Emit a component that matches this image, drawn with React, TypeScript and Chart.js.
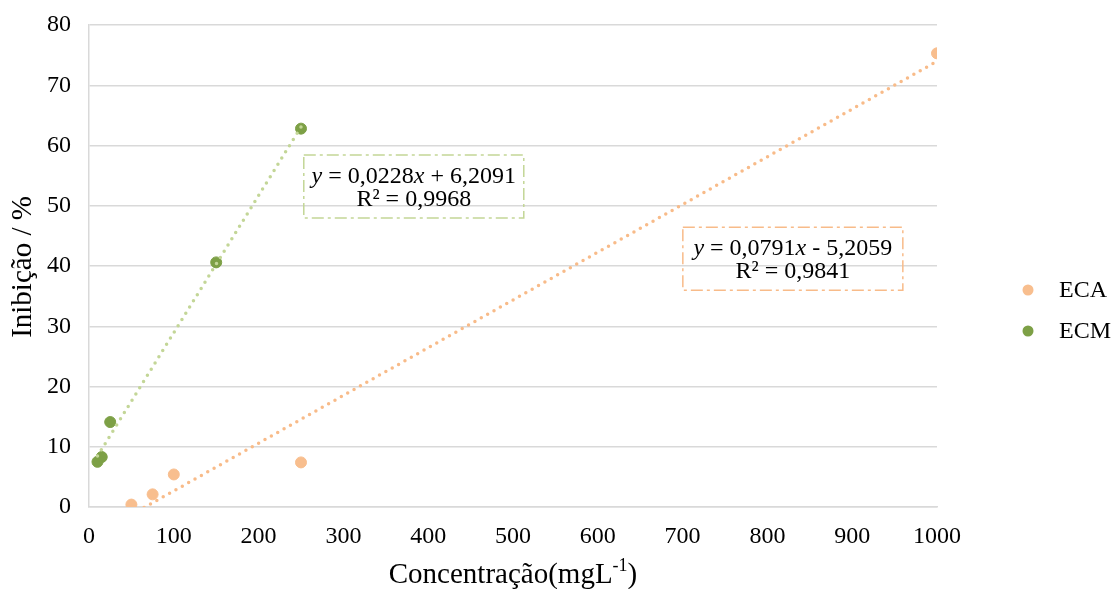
import React, { useEffect, useRef } from "react";
import { Chart, registerables } from "chart.js";

Chart.register(...registerables);

const ecaX = [50, 75, 100, 250, 1000];
const ecaY = [0.4, 2.1, 5.4, 7.4, 75.3];
const ecmX = [10, 15, 25, 150, 250];
const ecmY = [7.5, 8.3, 14.1, 40.6, 62.8];
const seriesNames = ["ECA", "ECM"];
const ecaEquation = ["0,0791", " - 5,2059", "R² = 0,9841"];
const ecmEquation = ["0,0228", " + 6,2091", "R² = 0,9968"];
const yTitle = "Inibição / %";
const xTitle = "Concentração(mgL";
const xTitleSup = "-1";

const ECA_POINT = "#F8BE8E";
const ECM_POINT = "#7DA046";
const ECA_TREND = "#F8BB89";
const ECM_TREND = "#C3D697";
const FONT = "'Liberation Serif', 'Times New Roman', serif";

function fit(xs: number[], ys: number[]) {
  const n = xs.length;
  const mx = xs.reduce((a, b) => a + b, 0) / n;
  const my = ys.reduce((a, b) => a + b, 0) / n;
  let sxx = 0, sxy = 0;
  for (let i = 0; i < n; i++) {
    sxx += (xs[i] - mx) ** 2;
    sxy += (xs[i] - mx) * (ys[i] - my);
  }
  const m = sxy / sxx;
  return { m, b: my - m * mx };
}

function trend(xs: number[], ys: number[]) {
  const { m, b } = fit(xs, ys);
  const x0 = Math.min(...xs);
  const x1 = Math.max(...xs);
  return [{ x: x0, y: m * x0 + b }, { x: x1, y: m * x1 + b }];
}

function drawEquationBox(ctx: CanvasRenderingContext2D, cx: number, cy: number, color: string, eq: string[]) {
  const w = 220, h = 63;
  ctx.save();
  ctx.strokeStyle = color;
  ctx.lineWidth = 1.5;
  ctx.setLineDash([12, 4, 3, 4]);
  ctx.strokeRect(cx - w / 2, cy - h / 2, w, h);
  ctx.setLineDash([]);
  ctx.fillStyle = "#000";
  ctx.textBaseline = "middle";
  ctx.textAlign = "left";
  const reg = `24px ${FONT}`;
  const ital = `italic 24px ${FONT}`;
  const segs: [string, string][] = [
    ["y", ital],
    [" = " + eq[0], reg],
    ["x", ital],
    [eq[1], reg],
  ];
  let total = 0;
  const widths = segs.map(([t, f]) => {
    ctx.font = f;
    const wd = ctx.measureText(t).width;
    total += wd;
    return wd;
  });
  let x = cx - total / 2;
  const y1 = cy - 10;
  segs.forEach(([t, f], i) => {
    ctx.font = f;
    ctx.fillText(t, x, y1);
    x += widths[i];
  });
  ctx.font = reg;
  ctx.textAlign = "center";
  ctx.fillText(eq[2], cx, cy + 13);
  ctx.restore();
}

const decorPlugin = {
  id: "decor",
  afterDraw(chart: any) {
    const ctx: CanvasRenderingContext2D = chart.ctx;
    const xs = chart.scales.x;
    const ys = chart.scales.y;
    drawEquationBox(ctx, xs.getPixelForValue(383), ys.getPixelForValue(53.2), ECM_TREND, ecmEquation);
    drawEquationBox(ctx, xs.getPixelForValue(830), ys.getPixelForValue(41.2), ECA_TREND, ecaEquation);

    ctx.save();
    ctx.fillStyle = "#000";
    ctx.font = `29px ${FONT}`;
    ctx.textAlign = "center";
    ctx.textBaseline = "middle";
    ctx.translate(23, 267);
    ctx.rotate(-Math.PI / 2);
    ctx.fillText(yTitle, 0, 0);
    ctx.restore();

    ctx.save();
    ctx.fillStyle = "#000";
    ctx.textBaseline = "alphabetic";
    ctx.textAlign = "left";
    const main = `29px ${FONT}`;
    const sup = `18px ${FONT}`;
    ctx.font = main;
    const w1 = ctx.measureText(xTitle).width;
    const w3 = ctx.measureText(")").width;
    ctx.font = sup;
    const w2 = ctx.measureText(xTitleSup).width;
    const cx = 513;
    let x = cx - (w1 + w2 + w3) / 2;
    const base = 583;
    ctx.font = main;
    ctx.fillText(xTitle, x, base);
    x += w1;
    ctx.font = sup;
    ctx.fillText(xTitleSup, x, base - 12);
    x += w2;
    ctx.font = main;
    ctx.fillText(")", x, base);
    ctx.restore();

    ctx.save();
    const cols = [ECA_POINT, ECM_POINT];
    const ly = [290, 331];
    seriesNames.forEach((n, i) => {
      ctx.fillStyle = cols[i];
      ctx.beginPath();
      ctx.arc(1028, ly[i], 5.5, 0, Math.PI * 2);
      ctx.fill();
      ctx.fillStyle = "#000";
      ctx.font = `24px ${FONT}`;
      ctx.textBaseline = "middle";
      ctx.textAlign = "left";
      ctx.fillText(n, 1059, ly[i] + 1);
    });
    ctx.restore();
  },
};

export default function App() {
  const ref = useRef<HTMLCanvasElement>(null);
  useEffect(() => {
    if (!ref.current) return;
    const chart = new Chart(ref.current, {
      type: "scatter",
      data: {
        datasets: [
          {
            type: "line",
            label: "ECA trend",
            data: trend(ecaX, ecaY),
            borderColor: ECA_TREND,
            borderWidth: 3.5,
            borderDash: [0, 7.3],
            borderCapStyle: "round",
            pointRadius: 0,
            fill: false,
          } as any,
          {
            type: "line",
            label: "ECM trend",
            data: trend(ecmX, ecmY),
            borderColor: ECM_TREND,
            borderWidth: 3.5,
            borderDash: [0, 7.3],
            borderCapStyle: "round",
            pointRadius: 0,
            fill: false,
          } as any,
          {
            label: seriesNames[0],
            data: ecaX.map((x, i) => ({ x, y: ecaY[i] })),
            backgroundColor: ECA_POINT,
            borderColor: ECA_POINT,
            pointRadius: 5.5,
          },
          {
            label: seriesNames[1],
            data: ecmX.map((x, i) => ({ x, y: ecmY[i] })),
            backgroundColor: ECM_POINT,
            borderColor: ECM_POINT,
            pointRadius: 5.5,
          },
        ],
      },
      options: {
        animation: false,
        responsive: false,
        layout: { padding: { left: 0, right: 176, top: 25, bottom: 0 } },
        plugins: { legend: { display: false }, tooltip: { enabled: false } },
        scales: {
          x: {
            type: "linear",
            min: 0,
            max: 1000,
            ticks: {
              stepSize: 100,
              color: "#000",
              font: { family: FONT, size: 24 },
              padding: 15,
              callback: (v: any) => String(v),
            },
            grid: { display: false, drawTicks: false },
            border: { display: true, color: "#d9d9d9", width: 1.5 },
            afterFit: (s: any) => { s.height = 82; s.paddingLeft = 0; s.paddingRight = 0; },
          },
          y: {
            min: 0,
            max: 80,
            ticks: { stepSize: 10, color: "#000", font: { family: FONT, size: 24 }, padding: 18 },
            grid: { color: "#d9d9d9", lineWidth: 1.5, drawTicks: false },
            border: { display: true, color: "#d9d9d9", width: 1.5 },
            afterFit: (s: any) => { s.width = 89; s.paddingTop = 0; s.paddingBottom = 0; },
          },
        },
      },
      plugins: [decorPlugin],
    });
    return () => chart.destroy();
  }, []);
  return (
    <div style={{ position: "fixed", left: 0, top: 0, width: 1113, height: 589, background: "#fff" }}>
      <canvas ref={ref} width={1113} height={589} style={{ width: 1113, height: 589 }} />
    </div>
  );
}
